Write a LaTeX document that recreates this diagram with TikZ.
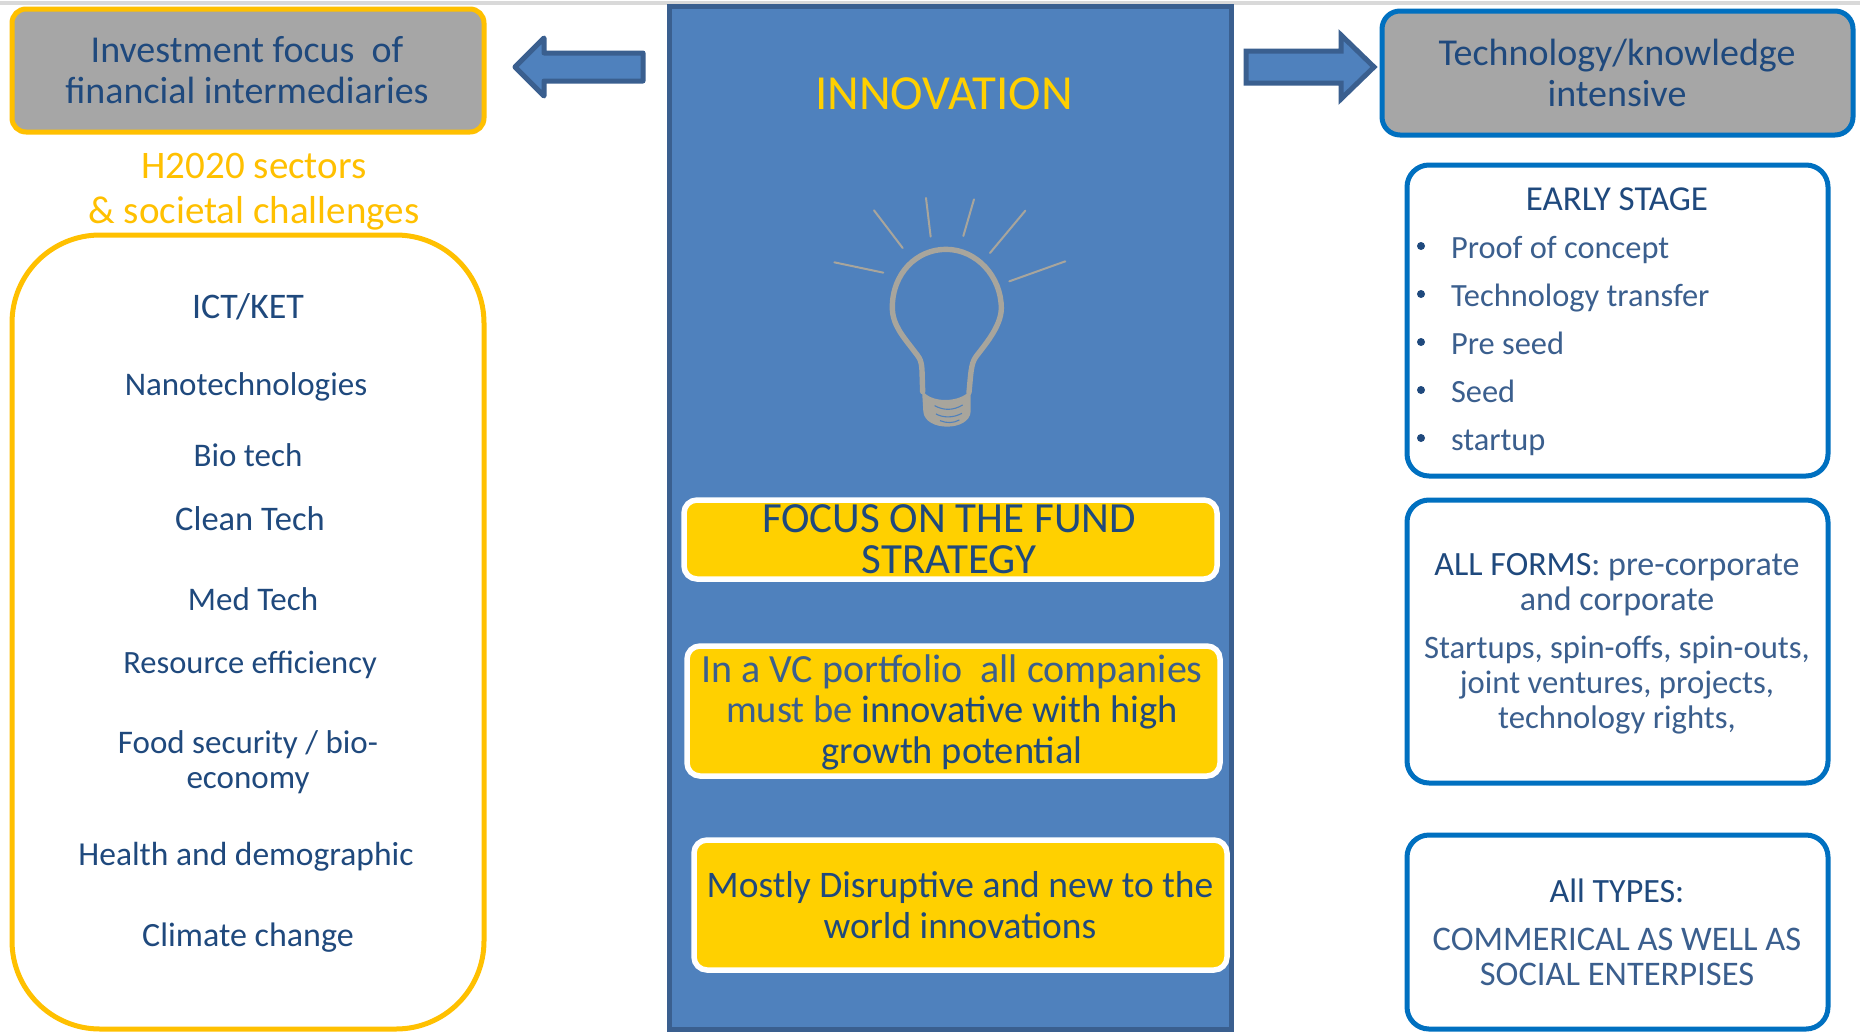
\documentclass[tikz,border=0pt]{standalone}
\usepackage{fontspec}
\setmainfont{Carlito}
\definecolor{navy}{HTML}{1F497D}
\definecolor{softnavy}{HTML}{3B5F8E}
\definecolor{gold}{HTML}{FFC000}
\definecolor{sun}{HTML}{FFD000}
\definecolor{midblue}{HTML}{4F81BD}
\definecolor{edgeblue}{HTML}{3A5F8F}
\definecolor{brightblue}{HTML}{0070C0}
\definecolor{greybox}{HTML}{A6A6A6}
\definecolor{bulbgrey}{HTML}{A8A59C}
\tikzset{
  x=1pt,y=-1pt,
  txt/.style={inner sep=0pt,outer sep=0pt,align=center,text=navy},
  bulbline/.style={draw=bulbgrey,line cap=round},
  thread/.style={draw=midblue,line width=1.1pt},
  arrowshape/.style={draw=edgeblue,fill=midblue,line width=5pt,line join=round},
  yellowbox/.style={draw=white,fill=sun,line width=5.5pt,rounded corners=13pt},
  bluebox/.style={draw=brightblue,fill=white,line width=5pt,rounded corners=22pt},
}
\newcommand{\fs}[2]{\fontsize{#1}{#2}\selectfont}
\newcommand{\bigtxt}{\fs{38}{40.5}}
\newcommand{\midtxt}{\fs{33}{35}}
\begin{document}
\begin{tikzpicture}
\useasboundingbox (0,0) rectangle (1860,1031);
\fill[white] (0,0) rectangle (1860,1031);
\fill[black!15] (0,1) rectangle (1860,5);
% centre panel
\draw[draw=edgeblue,fill=midblue,line width=5pt] (669,6) rectangle (1231,1029);
% left column
\draw[draw=gold,fill=greybox,line width=5pt,rounded corners=14pt] (12,9) rectangle (484,132);
\draw[draw=gold,fill=white,line width=5pt,rounded corners=88pt] (12,235) rectangle (484,1029);
% arrows
\draw[arrowshape] (515,67) -- (544,38) -- (544,53) -- (643,53) -- (643,81) -- (544,81) -- (544,96) -- cycle;
\draw[arrowshape,line join=miter] (1246,51) -- (1341,51) -- (1341,35) -- (1374,67) -- (1341,99) -- (1341,83) -- (1246,83) -- cycle;
% right column
\draw[draw=brightblue,fill=greybox,line width=5pt,rounded corners=18pt] (1382,11) rectangle (1853,135);
\draw[bluebox] (1407,165) rectangle (1828,476);
\draw[bluebox] (1407,500) rectangle (1828,783);
\draw[bluebox] (1407,835) rectangle (1828,1029);
% yellow boxes
\draw[yellowbox] (684,500) rectangle (1217,579);
\draw[yellowbox] (687,646) rectangle (1220,776);
\draw[yellowbox] (694,840) rectangle (1227,970);
% bulb
\begin{scope}[shift={(800,170)},x=0.3333pt,y=-0.3333pt]
\draw[bulbline,line width=2pt] (103,277) -- (250,308);
\draw[bulbline,line width=2pt] (222,121) -- (308,234);
\draw[bulbline,line width=2pt] (378,84) -- (392,200);
\draw[bulbline,line width=2pt] (522,88) -- (490,198);
\draw[bulbline,line width=2pt] (676,122) -- (570,249);
\draw[bulbline,line width=2pt] (796,274) -- (628,334);
\draw[bulbline,line width=5.4pt] (368,665) -- (366,600) .. controls (364,565) and (355,560) .. (340,540)
  .. controls (310,500) and (277,465) .. (277,412)
  .. controls (277,310) and (350,238) .. (438,238)
  .. controls (530,238) and (604,320) .. (604,415)
  .. controls (604,470) and (550,530) .. (528,560)
  .. controls (512,580) and (512,620) .. (507,668);
\fill[bulbgrey] (366,660) .. controls (390,700) and (480,700) .. (512,660)
  -- (512,725) .. controls (508,785) and (375,785) .. (370,725) -- cycle;
\draw[thread] (404,707) .. controls (430,722) and (460,722) .. (488,705);
\draw[thread] (408,732) .. controls (430,744) and (460,744) .. (486,730);
\draw[thread] (420,752) .. controls (440,760) and (460,760) .. (478,750);
\end{scope}
% texts
\node[txt,font=\bigtxt] (invest) at (247,70) {Investment focus\ \ of\\financial intermediaries};
\node[txt,font=\fs{39}{45},text=gold] (h2020) at (254,192) {H2020 sectors\\\& societal challenges};
\node[txt,font=\fs{49}{50},text=sun] (innov) at (944,94) {INNOVATION};
\node[txt,font=\fs{36}{38}] (s1) at (248,307) {ICT/KET};
\node[txt,font=\midtxt] (s2) at (246,387) {Nanotechnologies};
\node[txt,font=\midtxt] (s3) at (248,455) {Bio tech};
\node[txt,font=\fs{34.5}{36}] (s4) at (250,519) {Clean Tech};
\node[txt,font=\midtxt] (s5) at (253,599) {Med Tech};
\node[txt,font=\fs{32.5}{35}] (s6) at (250,665) {Resource efficiency};
\node[txt,font=\midtxt] (s7) at (248,762) {Food security / bio-\\economy};
\node[txt,font=\fs{33.5}{35}] (s8) at (246,857) {Health and demographic};
\node[txt,font=\fs{34}{36}] (s9) at (248,938) {Climate change};
\node[txt,font=\bigtxt] (tech) at (1617,73) {Technology/knowledge\\intensive};
\node[txt,font=\fs{35}{37}] (early) at (1617,199) {EARLY STAGE};
\foreach \n/\y/\t in {p1/250/Proof of concept,p2/298/Technology transfer,p3/343/Pre seed,p4/391/Seed,p5/443/startup}{
  \node[txt,anchor=west,font=\fs{32.4}{35},text=softnavy] (\n) at (1451,\y) {\t};
}
\foreach \y in {246,294,342,390,438}{\fill[navy] (1421,\y) circle (4);}
\node[txt,font=\fs{34}{35},text=softnavy] (forms) at (1617,585) {{\color{navy}ALL FORMS}: pre-corporate\\and corporate};
\node[txt,font=\fs{32.7}{35},text=softnavy] (startups) at (1617,685) {Startups, spin-offs, spin-outs,\\joint ventures, projects,\\technology rights,};
\node[txt,font=\fs{34}{36}] (types) at (1617,891) {All TYPES:};
\node[txt,font=\fs{34.5}{35},text=softnavy] (comm) at (1617,957) {COMMERICAL AS WELL AS\\SOCIAL ENTERPISES};
\node[txt,font=\fs{43}{40.5}] (fund) at (949,539) {FOCUS ON THE FUND\\STRATEGY};
\node[txt,font=\fs{38.5}{40.5},text=softnavy] (vc) at (952,712) {{\fs{40}{40.5}In a VC portfolio\ \ all companies}\\must be {\color{navy}innovative with high}\\{\color{navy}growth potential}};
\node[txt,font=\fs{37.5}{40.5}] (mostly) at (960,905) {Mostly Disruptive and new to the\\world innovations};
\end{tikzpicture}
\end{document}
